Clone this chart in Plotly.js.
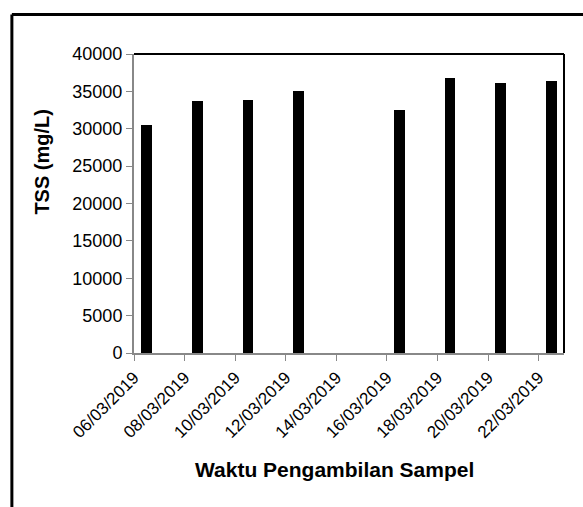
<!DOCTYPE html>
<html>
<head>
<meta charset="utf-8">
<script src="https://cdn.plot.ly/plotly-3.0.1.min.js"></script>
<style>html,body{margin:0;padding:0;background:#fff;}#chart{width:583px;height:507px;}</style>
</head>
<body>
<div id="chart"></div>
<script>
var dates = ['2019-03-06','2019-03-08','2019-03-10','2019-03-12','2019-03-16','2019-03-18','2019-03-20','2019-03-22'];
var tss = [30500, 33700, 33900, 35000, 32550, 36750, 36150, 36350];
var tickDates = ['2019-03-06','2019-03-08','2019-03-10','2019-03-12','2019-03-14','2019-03-16','2019-03-18','2019-03-20','2019-03-22'];
var tickLabels = ['06/03/2019','08/03/2019','10/03/2019','12/03/2019','14/03/2019','16/03/2019','18/03/2019','20/03/2019','22/03/2019'];
var yTicks = [0,5000,10000,15000,20000,25000,30000,35000,40000];
var yTickLabels = ['0','5000','10000','15000','20000','25000','30000','35000','40000'];
var xTitle = 'Waktu Pengambilan Sampel';
var yTitle = 'TSS (mg/L)';

var font = 'Liberation Sans, Arial, sans-serif';
var trace = {
  type: 'bar', x: dates, y: tss,
  xperiod: 86400000, xperiodalignment: 'middle',
  width: 0.42*86400000,
  marker: {color: '#000000', line: {width: 0}},
  hoverinfo: 'x+y'
};
var layout = {
  width: 583, height: 507,
  margin: {l: 134, r: 19, t: 54, b: 154},
  paper_bgcolor: '#ffffff', plot_bgcolor: '#ffffff',
  showlegend: false,
  bargap: 0,
  xaxis: {
    type: 'date', range: ['2019-03-06','2019-03-23'],
    tickmode: 'array', tickvals: tickDates, ticktext: tickLabels,
    tickangle: -45, ticks: 'outside', ticklen: 6, tickcolor: '#888888', tickwidth: 1,
    showline: true, linecolor: '#888888', linewidth: 2, showgrid: false, zeroline: false,
    tickfont: {family: font, size: 17, color: '#000'}
  },
  yaxis: {
    range: [0, 40000], tickmode: 'array', tickvals: yTicks, ticktext: yTickLabels,
    ticks: 'outside', ticklen: 6, tickcolor: '#888888', tickwidth: 1,
    showline: true, linecolor: '#888888', linewidth: 2, showgrid: false, zeroline: false,
    tickfont: {family: font, size: 18, color: '#000'}
  },
  shapes: [
    {type: 'line', xref: 'paper', yref: 'paper', x0: 0, x1: 1, y0: 1, y1: 1, line: {color: '#000', width: 2}},
    {type: 'line', xref: 'paper', yref: 'paper', x0: 1, x1: 1, y0: 0, y1: 1, line: {color: '#000', width: 2}},
    {type: 'line', xref: 'paper', yref: 'paper', x0: -0.284, x1: -0.284, y0: -0.52, y1: 1.132, line: {color: '#000', width: 3}},
    {type: 'line', xref: 'paper', yref: 'paper', x0: -0.284, x1: 1.1, y0: 1.132, y1: 1.132, line: {color: '#000', width: 3}}
  ],
  annotations: [
    {text: '<b>' + xTitle + '</b>', xref: 'paper', yref: 'paper', x: 0.467, y: -0.391, xanchor: 'center', yanchor: 'middle', showarrow: false, font: {family: font, size: 21, color: '#000'}},
    {text: '<b>' + yTitle + '</b>', xref: 'paper', yref: 'paper', x: -0.214, y: 0.64, textangle: -90, xanchor: 'center', yanchor: 'middle', showarrow: false, font: {family: font, size: 20, color: '#000'}}
  ]
};
Plotly.newPlot('chart', [trace], layout, {displayModeBar: false, staticPlot: true});
</script>
</body>
</html>
